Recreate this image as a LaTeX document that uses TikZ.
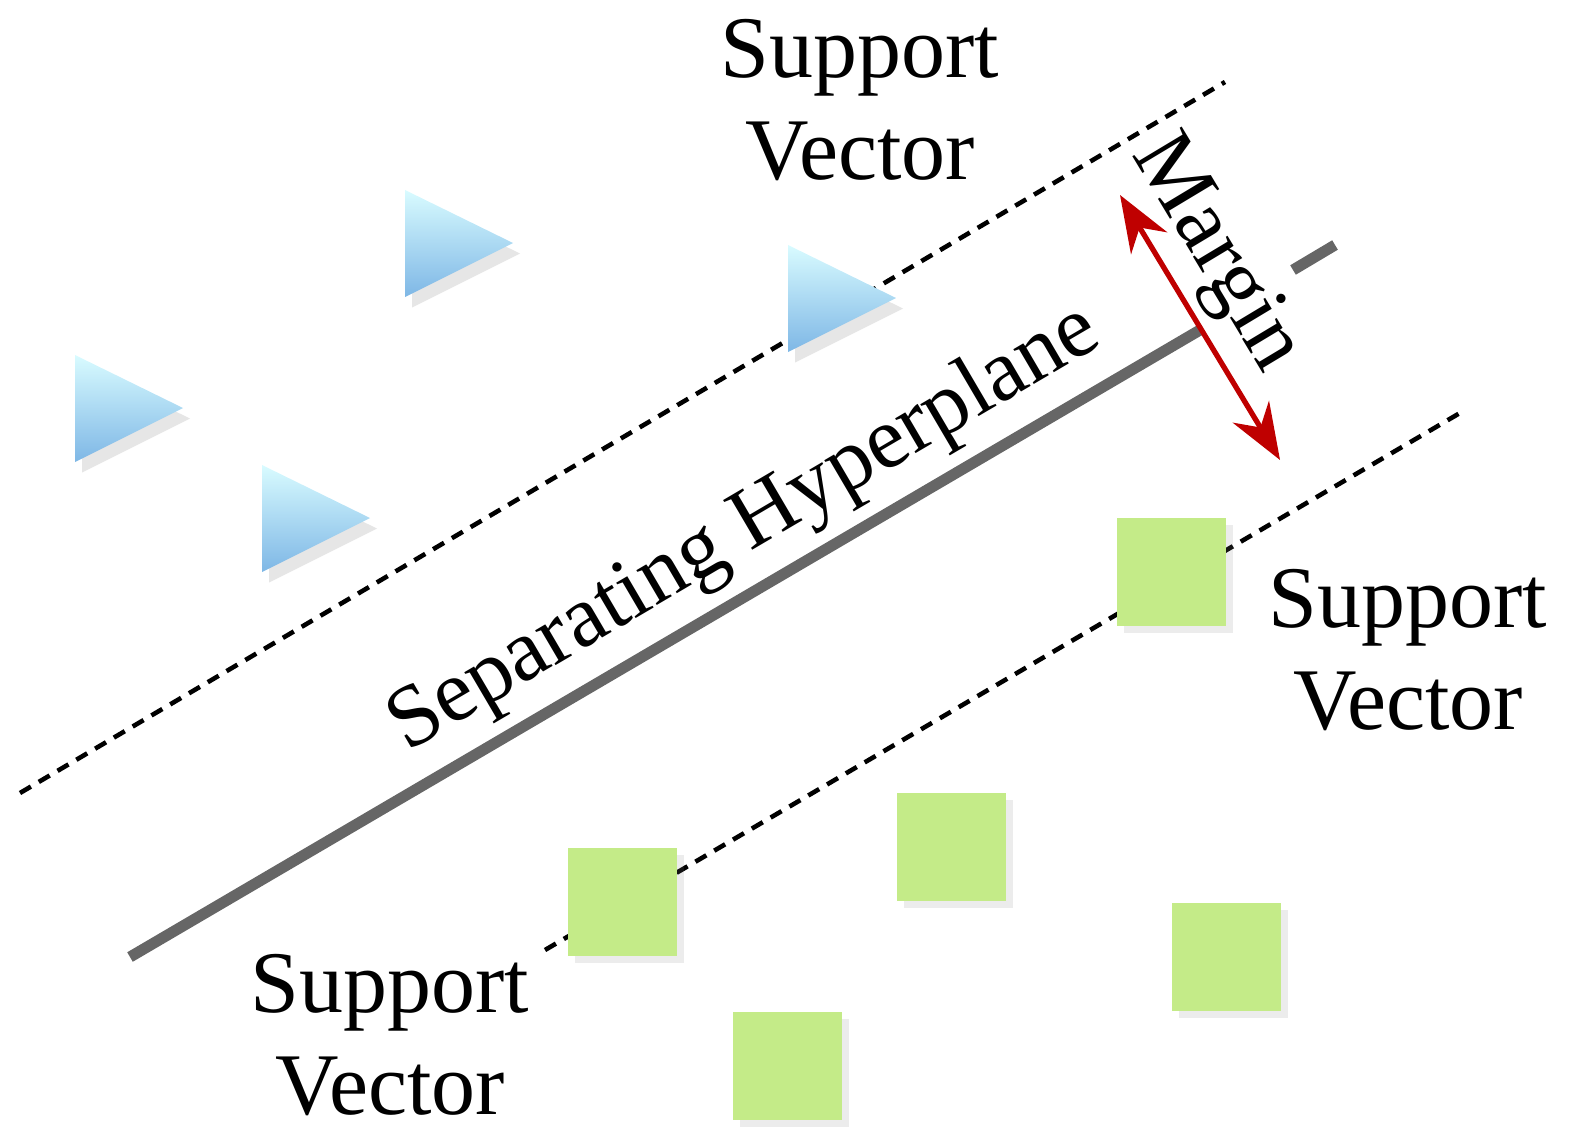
\documentclass[tikz,border=0pt]{standalone}
\usepackage{fontspec}
\setmainfont{Liberation Serif}
\usetikzlibrary{arrows.meta,shadows}
\definecolor{sqgreen}{HTML}{C4EB88}
\definecolor{hgray}{HTML}{666666}
\begin{document}
\begin{tikzpicture}[x=0.01cm,y=-0.01cm,
 tri/.style={top color=blue!10!cyan!15!white,bottom color=blue!45!cyan!45!white!90!black,draw=none,drop shadow={shadow xshift=2pt,shadow yshift=-3pt,opacity=0.2}},
 sq/.style={fill=sqgreen,draw=none,drop shadow={shadow xshift=2pt,shadow yshift=-2pt,opacity=0.15}},
 lab/.style={font=\fontsize{25}{29}\selectfont,align=center},
 dsh/.style={line width=1.3pt,dash pattern=on 3.6pt off 2.6pt}]
\useasboundingbox (0,0) rectangle (1571,1146);
\coordinate (u1) at (20,793); \coordinate (u2) at (1225,82);
\coordinate (l1) at (545,950); \coordinate (l2) at (1465,410);
\draw[dsh] (u1) -- (u2);
\draw[dsh] (l1) -- (l2);
\coordinate (h1) at (130,957); \coordinate (h2) at (1200,330);
\coordinate (h3) at (1293,270); \coordinate (h4) at (1335,245);
\draw[line width=0.11cm,hgray] (h1) -- (h2);
\draw[line width=0.11cm,hgray] (h3) -- (h4);
\foreach \x/\y in {405/190,788/245,75/355,262/465}
  \path[tri] (\x,\y) -- (\x,\y+107) -- (\x+108,\y+53) -- cycle;
\foreach \x/\y in {1117/518,568/848,897/793,1172/903,733/1012}
  \path[sq] (\x,\y) rectangle (\x+109,\y+108);
\coordinate (m1) at (1120,195); \coordinate (m2) at (1280,460);
\draw[red!75!black,line width=1.5pt,{Stealth[length=16pt,width=12pt]}-{Stealth[length=16pt,width=12pt]}] (m1) -- (m2);
\node[lab] (t1) at (860,100) {Support\\Vector};
\node[lab] (t2) at (1408,650) {Support\\Vector};
\node[lab] (t3) at (390,1035) {Support\\Vector};
\node[lab,rotate=30.4] (sh) at (745,530) {Separating Hyperplane};
\node[lab,rotate=-59] (mg) at (1215,255) {Margin};
\end{tikzpicture}
\end{document}
